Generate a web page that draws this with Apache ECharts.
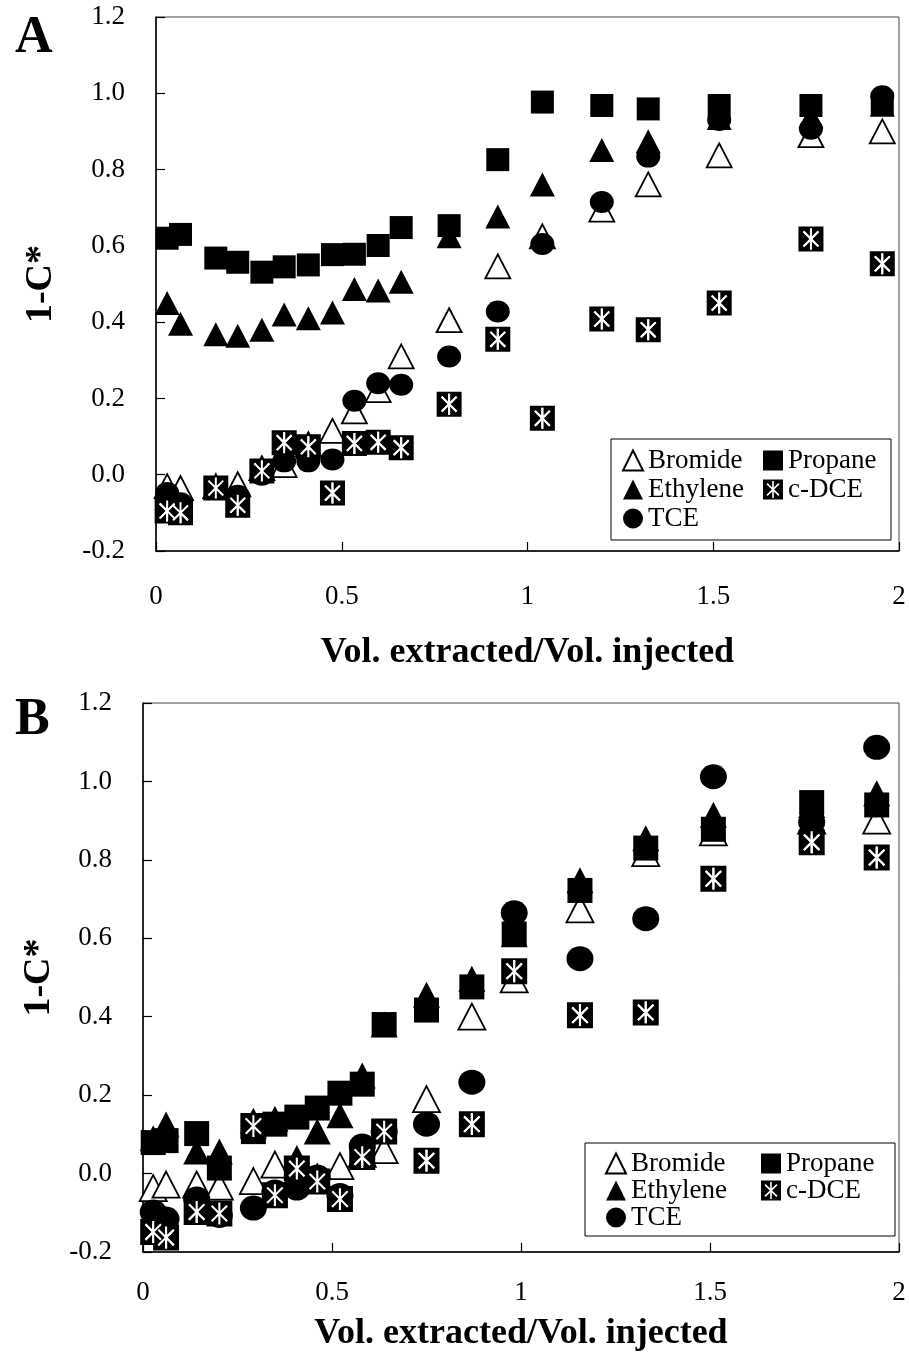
<!DOCTYPE html>
<html>
<head>
<meta charset="utf-8">
<script src="https://cdn.jsdelivr.net/npm/echarts@6/dist/echarts.min.js"></script>
<style>
html,body{margin:0;padding:0;background:#fff;}
#chart{width:909px;height:1359px;}
</style>
</head>
<body>
<div id="chart"></div>
<script>
// ---- Data: Panel A ----
const xA = [0.03,0.066,0.161,0.22,0.285,0.345,0.41,0.475,0.534,0.598,0.66,0.789,0.92,1.04,1.2,1.325,1.516,1.763,1.955];
const bromideA  = [-0.03,-0.035,-0.03,-0.025,0.017,0.025,0.08,0.115,0.166,0.222,0.31,0.405,0.546,0.625,0.695,0.761,0.837,0.89,0.90];
const propaneA  = [0.62,0.63,0.568,0.557,0.531,0.545,0.55,0.577,0.578,0.601,0.648,0.653,0.826,0.977,0.968,0.959,0.968,0.968,0.973];
const ethyleneA = [0.45,0.396,0.368,0.364,0.38,0.42,0.41,0.425,0.487,0.483,0.506,0.625,0.677,0.761,0.851,0.874,0.935,0.94,0.97];
const tceA      = [-0.048,-0.075,-0.035,-0.055,0.0,0.035,0.035,0.04,0.194,0.24,0.236,0.31,0.428,0.605,0.715,0.834,0.93,0.907,0.992];
const cdceA     = [-0.095,-0.1,-0.035,-0.08,0.01,0.084,0.073,-0.048,0.082,0.085,0.071,0.185,0.355,0.148,0.408,0.38,0.45,0.618,0.553];

// ---- Data: Panel B ----
const xB = [0.027,0.061,0.142,0.202,0.292,0.349,0.407,0.461,0.521,0.58,0.638,0.75,0.87,0.982,1.156,1.33,1.509,1.769,1.941];
const bromideB  = [-0.037,-0.028,-0.028,-0.033,-0.019,0.023,0.0,-0.01,0.019,0.05,0.06,0.19,0.4,0.495,0.674,0.817,0.87,0.9,0.9];
const propaneB  = [0.079,0.084,0.102,0.014,0.107,0.126,0.144,0.167,0.205,0.228,0.38,0.417,0.476,0.611,0.722,0.83,0.878,0.946,0.94];
const ethyleneB = [0.09,0.125,0.056,0.056,0.135,0.14,0.04,0.107,0.149,0.25,0.38,0.456,0.497,0.61,0.748,0.855,0.915,0.94,0.97];
const tceB      = [-0.098,-0.116,-0.065,-0.107,-0.088,-0.047,-0.037,-0.009,-0.056,0.07,0.107,0.126,0.233,0.665,0.548,0.65,1.012,0.896,1.087];
const cdceB     = [-0.149,-0.163,-0.098,-0.102,0.121,-0.055,0.013,-0.02,-0.065,0.042,0.107,0.033,0.126,0.516,0.404,0.411,0.752,0.845,0.806];

// ---- Labels ----
const seriesNames = ['Bromide','Ethylene','TCE','Propane','c-DCE'];
const panelLabels = ['A','B'];
const xTitle = 'Vol. extracted/Vol. injected';
const yTitle = '1-C*';

// ---- c-DCE symbol: black square with white asterisk (vertical bar + X) ----
const ARM = 84, HW = 8;
const ARM_ANGLES = [45, 90, 135, 225, 270, 315];
function starPoints(){
  const pts = [];
  const n = ARM_ANGLES.length;
  for (let k = 0; k < n; k++) {
    const a = ARM_ANGLES[k] * Math.PI/180;
    const bDeg = k + 1 < n ? ARM_ANGLES[k+1] : ARM_ANGLES[0] + 360;
    const b = bDeg * Math.PI/180;
    const d = [Math.cos(a), Math.sin(a)], p = [-Math.sin(a), Math.cos(a)];
    // arm length scaled so diagonal arms reach similar extent as vertical
    const L = ARM;
    pts.push([L*d[0]-HW*p[0], L*d[1]-HW*p[1]]);
    pts.push([L*d[0]+HW*p[0], L*d[1]+HW*p[1]]);
    const half = (b - a)/2, mid = a + half;
    const r = HW / Math.sin(half);
    pts.push([r*Math.cos(mid), r*Math.sin(mid)]);
  }
  // flip y so that the star winds opposite to the square
  return pts.map(q => [q[0], -q[1]]);
}
function ptsToPath(pts){
  return 'M' + pts.map(q => q[0].toFixed(2)+' '+q[1].toFixed(2)).join(' L') + ' Z';
}
const starPts = starPoints();
const holedSquare = 'path://M-100 -100 L100 -100 L100 100 L-100 100 Z ' + ptsToPath(starPts);
const starOnly = 'path://' + ptsToPath(starPts);
const starXExt = Math.max(...starPts.map(q => Math.abs(q[0])));
const starYExt = Math.max(...starPts.map(q => Math.abs(q[1])));

const FONT = 'Liberation Serif';

function pairs(xs, ys){ return xs.map((x,i) => [x, ys[i]]); }

function panelSeries(idx, xs, br, et, tc, pr, cd, sz){
  const base = {type:'scatter', xAxisIndex:idx, yAxisIndex:idx, animation:false};
  const cdSize = sz.cd;
  return [
    Object.assign({}, base, {name:'Bromide', data:pairs(xs,br), symbol:'triangle', symbolSize:sz.tri,
      itemStyle:{color:'#fff', borderColor:'#000', borderWidth:1.8, opacity:1}}),
    Object.assign({}, base, {name:'Propane', data:pairs(xs,pr), symbol:'rect', symbolSize:sz.sq,
      itemStyle:{color:'#000', opacity:1}}),
    Object.assign({}, base, {name:'Ethylene', data:pairs(xs,et), symbol:'triangle', symbolSize:sz.tri,
      itemStyle:{color:'#000', opacity:1}}),
    Object.assign({}, base, {name:'TCE', data:pairs(xs,tc), symbol:'circle', symbolSize:sz.ci,
      itemStyle:{color:'#000', opacity:1}}),
    Object.assign({}, base, {name:'c-DCE', data:pairs(xs,cd), symbol:holedSquare, symbolSize:cdSize,
      itemStyle:{color:'#000', opacity:1}}),
    Object.assign({}, base, {name:'c-DCE-star', data:pairs(xs,cd), symbol:starOnly,
      symbolSize:[cdSize*starXExt/100, cdSize*starYExt/100],
      itemStyle:{color:'#fff', opacity:1}, silent:true})
  ];
}

function yFmt(v){ if (Math.abs(v) < 1e-9) return '0.0'; return v.toFixed(1); }
function xFmt(v){ return String(Math.round(v*10)/10); }

function xAxisCfg(idx, labelMargin, nameGap){
  return {gridIndex:idx, type:'value', min:0, max:2, interval:0.5,
    axisLine:{show:true, onZero:false, lineStyle:{color:'#000', width:1.5}},
    axisTick:{show:true, inside:true, length:9, lineStyle:{color:'#000', width:1.2}},
    splitLine:{show:false},
    axisLabel:{formatter:xFmt, margin:labelMargin, color:'#000', fontFamily:FONT, fontSize:27},
    name:xTitle, nameLocation:'middle', nameGap:nameGap,
    nameTextStyle:{color:'#000', fontFamily:FONT, fontSize:36, fontWeight:'bold'}};
}
function yAxisCfg(idx, nameGap){
  return {gridIndex:idx, type:'value', min:-0.2, max:1.2, interval:0.2,
    axisLine:{show:true, onZero:false, lineStyle:{color:'#000', width:1.5}},
    axisTick:{show:true, inside:true, length:9, lineStyle:{color:'#000', width:1.2}},
    splitLine:{show:false},
    axisLabel:{formatter:yFmt, margin:31, color:'#000', fontFamily:FONT, fontSize:27},
    name:yTitle, nameLocation:'middle', nameGap:nameGap, nameRotate:90,
    nameTextStyle:{color:'#000', fontFamily:FONT, fontSize:38, fontWeight:'bold'}};
}

function legendCfg(left, top, gap, data){
  return {orient:'vertical', left:left, top:top, itemWidth:20, itemHeight:20, itemGap:gap,
    data:data, selectedMode:false, padding:0,
    textStyle:{color:'#000', fontFamily:FONT, fontSize:27}};
}

const option = {
  backgroundColor:'#fff',
  animation:false,
  title: [
    {text:panelLabels[0], left:10, top:8, textStyle:{fontFamily:FONT, fontSize:52, fontWeight:'bold', color:'#000'}},
    {text:panelLabels[1], left:10, top:690, textStyle:{fontFamily:FONT, fontSize:52, fontWeight:'bold', color:'#000'}}
  ],
  grid: [
    {left:156, top:17, width:743, height:534, show:true, borderColor:'#444', borderWidth:1, backgroundColor:'transparent'},
    {left:143, top:703, width:756, height:549, show:true, borderColor:'#444', borderWidth:1, backgroundColor:'transparent'}
  ],
  xAxis: [xAxisCfg(0, 32, 84), xAxisCfg(1, 27, 64)],
  yAxis: [yAxisCfg(0, 96), yAxisCfg(1, 83)],
  legend: [
    legendCfg(622, 447, 2, ['Bromide','Ethylene','TCE']),
    legendCfg(763, 447, 2, ['Propane','c-DCE']),
    legendCfg(605, 1150, 0, ['Bromide','Ethylene','TCE']),
    legendCfg(761, 1150, 0, ['Propane','c-DCE'])
  ],
  graphic: [
    {type:'rect', shape:{x:611, y:439, width:280, height:101}, style:{fill:'none', stroke:'#000', lineWidth:1}, z:-1},
    {type:'rect', shape:{x:585, y:1143, width:310, height:93}, style:{fill:'none', stroke:'#000', lineWidth:1}, z:-1}
  ],
  series: [].concat(
    panelSeries(0, xA, bromideA, ethyleneA, tceA, propaneA, cdceA, {tri:[25,24], sq:23, ci:[24,22], cd:25}),
    panelSeries(1, xB, bromideB, ethyleneB, tceB, propaneB, cdceB, {tri:[27,26], sq:25, ci:[27,25], cd:26})
  )
};

const chart = echarts.init(document.getElementById('chart'), null, {renderer:'canvas'});
chart.setOption(option);
</script>
</body>
</html>
